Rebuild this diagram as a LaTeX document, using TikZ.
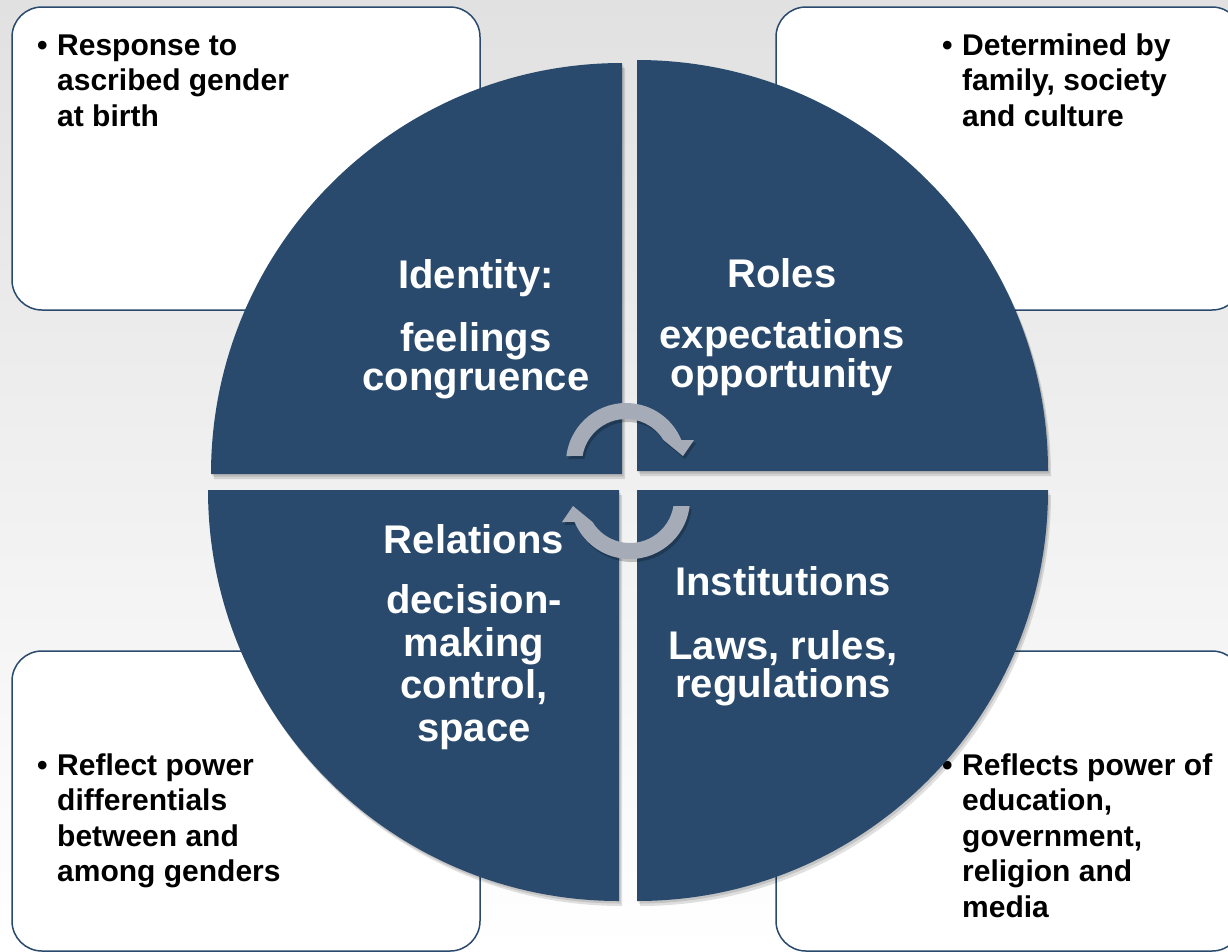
\documentclass[tikz,border=0pt]{standalone}
\usepackage{fontspec}
\setmainfont{Liberation Sans}
\definecolor{qblue}{RGB}{41,74,108}
\definecolor{agray}{RGB}{166,172,183}
\definecolor{bgtop}{RGB}{225,225,225}
\newcommand\circarrowpath{(186.7:60) arc[start angle=186.7, end angle=337.5, radius=60] -- (68,-23) -- (57,-7) -- (328.5:44) arc[start angle=328.5, end angle=189.2, radius=44] -- cycle}
\newcommand\bulletlines[1]{\makebox[20pt][l]{•}\begin{tabular}[t]{@{}l@{}}#1\end{tabular}}
\begin{document}
\begin{tikzpicture}[x=1pt,y=-1pt,
  box/.style={draw=qblue, line width=1.5pt, fill=white, rounded corners=30pt, inner sep=0pt},
  btext/.style={anchor=base west, inner sep=0pt,
    font=\bfseries\fontsize{30}{35.5}\selectfont},
  qtitle/.style={anchor=base, inner sep=0pt, text=white, font=\bfseries\fontsize{40}{40}\selectfont},
  qbody/.style={anchor=base, inner sep=0pt, text=white, align=center},
  quad/.style={fill=qblue},
  qshadow/.style={fill=black, opacity=0.12},
  arr/.style={fill=agray},
  ashadow/.style={fill=black, opacity=0.22}
]
\useasboundingbox (0,0) rectangle (1228,951);
\fill[top color=bgtop, bottom color=white] (0,0) rectangle (1228,951);

% corner boxes
\node[box, minimum width=468pt, minimum height=303pt] (boxTL) at (246,158.5) {};
\node[box, minimum width=466pt, minimum height=303pt] (boxTR) at (1009,158.5) {};
\node[box, minimum width=468pt, minimum height=300pt] (boxBL) at (246,801) {};
\node[box, minimum width=466pt, minimum height=300pt] (boxBR) at (1009,801) {};

\node[btext] (tTL) at (37,55) {\bulletlines{Response to\\ascribed gender\\at birth}};
\node[btext] (tTR) at (942,55) {\bulletlines{Determined by\\family, society\\and culture}};
\node[btext] (tBL) at (37,775) {\bulletlines{Reflect power\\differentials\\between and\\among genders}};
\node[btext] (tBR) at (942,775) {\bulletlines{Reflects power of\\education,\\government,\\religion and\\media}};

% quadrant shadows
\foreach \dx/\dy in {1.5/2.5, 3/5}{
  \fill[qshadow, shift={(\dx,\dy)}] (622,474) -- ++(-411,0) arc[start angle=180, end angle=270, radius=411] -- cycle;
  \fill[qshadow, shift={(\dx,\dy)}] (637,471) -- ++(0,-411) arc[start angle=270, end angle=360, radius=411] -- cycle;
  \fill[qshadow, shift={(\dx,\dy)}] (637,490) -- ++(411,0) arc[start angle=0, end angle=90, radius=411] -- cycle;
  \fill[qshadow, shift={(\dx,\dy)}] (619,490) -- ++(0,411) arc[start angle=90, end angle=180, radius=411] -- cycle;
}
% quadrants
\fill[quad] (622,474) -- ++(-411,0) arc[start angle=180, end angle=270, radius=411] -- cycle;
\fill[quad] (637,471) -- ++(0,-411) arc[start angle=270, end angle=360, radius=411] -- cycle;
\fill[quad] (637,490) -- ++(411,0) arc[start angle=0, end angle=90, radius=411] -- cycle;
\fill[quad] (619,490) -- ++(0,411) arc[start angle=90, end angle=180, radius=411] -- cycle;

% quadrant texts (multi-line nodes are placed by their last baseline)
\node[qtitle] (idT) at (476,288) {Identity:};
\node[qbody, font=\bfseries\fontsize{40}{39}\selectfont] (idB) at (476,390) {feelings\\congruence};
\node[qtitle] (roT) at (782,287) {Roles};
\node[qbody, font=\bfseries\fontsize{40}{39}\selectfont] (roB) at (782,387) {expectations\\opportunity};
\node[qtitle] (reT) at (474,553) {Relations};
\node[qbody, font=\bfseries\fontsize{40}{42.5}\selectfont] (reB) at (474,741) {decision-\\making\\control,\\space};
\node[qtitle] (inT) at (783,595) {Institutions};
\node[qbody, font=\bfseries\fontsize{40}{37.5}\selectfont] (inB) at (783,697) {Laws, rules,\\regulations};

% circular arrows
\begin{scope}[shift={(628,466)}]
  \fill[ashadow] \circarrowpath;
\end{scope}
\begin{scope}[shift={(626,463)}]
  \fill[arr] \circarrowpath;
\end{scope}
\begin{scope}[shift={(2,3)}, rotate around={180:(628,481)}, shift={(626,463)}]
  \fill[ashadow] \circarrowpath;
\end{scope}
\begin{scope}[rotate around={180:(628,481)}, shift={(626,463)}]
  \fill[arr] \circarrowpath;
\end{scope}
\end{tikzpicture}
\end{document}
